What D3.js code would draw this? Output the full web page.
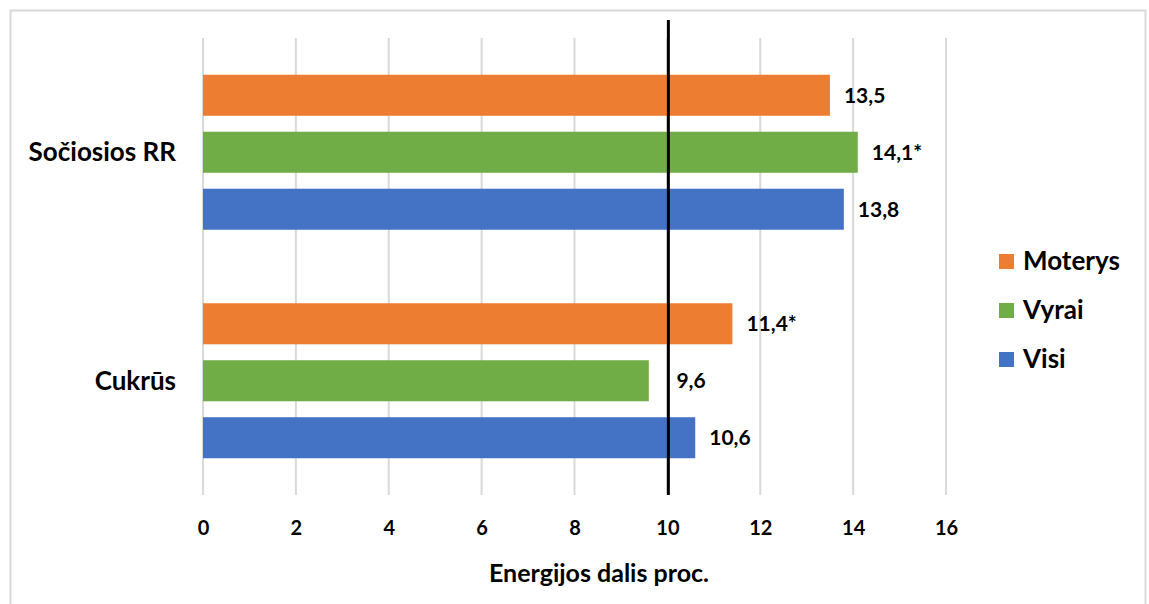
<!DOCTYPE html>
<html>
<head>
<meta charset="utf-8">
<script src="https://cdn.jsdelivr.net/npm/d3@7/dist/d3.min.js"></script>
<style>
  html, body { margin: 0; padding: 0; background: #fff; }
  svg { display: block; }
  text { font-family: Lato, "Open Sans", sans-serif; font-weight: bold; fill: #000; }
</style>
</head>
<body>
<svg id="chart" width="1149" height="604"></svg>
<script>
// Energy share (%) by category and group
const categories = ["Sočiosios RR", "Cukrūs"];
const seriesNames = ["Moterys", "Vyrai", "Visi"];
const seriesColors = ["#ED7D31", "#70AD47", "#4472C4"];
const moterys = [13.5, 11.4];
const vyrai = [14.1, 9.6];
const visi = [13.8, 10.6];
const valueLabels = [["13,5", "11,4*"], ["14,1*", "9,6"], ["13,8", "10,6"]];
const xTicks = [0, 2, 4, 6, 8, 10, 12, 14, 16];
const referenceValue = 10;
const axisTitle = "Energijos dalis proc.";

const seriesValues = [moterys, vyrai, visi];

const svg = d3.select("#chart");

// outer chart frame
svg.append("rect")
  .attr("x", 10.5).attr("y", 10.5)
  .attr("width", 1135).attr("height", 600)
  .attr("fill", "#fff").attr("stroke", "#d9d9d9").attr("stroke-width", 2);

const plot = { left: 203, right: 946, top: 38, bottom: 495 };

const x = d3.scaleLinear().domain([0, 16]).range([plot.left, plot.right]);
const y = d3.scaleBand().domain(categories).range([plot.top, plot.bottom]).paddingInner(0).paddingOuter(0);
const ySeries = d3.scaleBand().domain(seriesNames)
  .range([0, y.bandwidth()]).paddingInner(0.28).paddingOuter(0.645);

// vertical gridlines
svg.append("g").selectAll("line").data(xTicks).join("line")
  .attr("x1", d => x(d)).attr("x2", d => x(d))
  .attr("y1", plot.top).attr("y2", plot.bottom)
  .attr("stroke", "#d9d9d9").attr("stroke-width", 2);

// bars
const rows = [];
categories.forEach((c, ci) => {
  seriesNames.forEach((s, si) => {
    rows.push({ cat: c, series: s, value: seriesValues[si][ci], label: valueLabels[si][ci], color: seriesColors[si] });
  });
});

svg.append("g").selectAll("rect").data(rows).join("rect")
  .attr("x", x(0))
  .attr("y", d => y(d.cat) + ySeries(d.series))
  .attr("width", d => x(d.value) - x(0))
  .attr("height", ySeries.bandwidth())
  .attr("fill", d => d.color);

// value labels; a label that would sit on the reference line is moved past it
const labelX = d => {
  const px = x(d.value) + 14;
  return d.value < referenceValue ? Math.max(px, x(referenceValue) + 9) : px;
};
svg.append("g").selectAll("text").data(rows).join("text")
  .attr("x", labelX)
  .attr("y", d => y(d.cat) + ySeries(d.series) + ySeries.bandwidth() / 2)
  .attr("dy", "0.35em")
  .attr("font-size", 21)
  .text(d => d.label);

// reference line at 10 %
svg.append("line")
  .attr("x1", x(referenceValue) + 1).attr("x2", x(referenceValue) + 1)
  .attr("y1", 20).attr("y2", plot.bottom)
  .attr("stroke", "#000").attr("stroke-width", 3);

// x axis tick labels
const xAxis = d3.axisBottom(x).tickValues(xTicks).tickSize(0).tickPadding(0).tickFormat(d3.format("d"));
const gx = svg.append("g").attr("transform", `translate(0,${plot.bottom})`).call(xAxis);
gx.select(".domain").remove();
gx.selectAll("text")
  .attr("y", 33).attr("dy", "0.35em")
  .attr("font-size", 20)
  .style("font-family", "Lato, 'Open Sans', sans-serif")
  .style("font-weight", "bold")
  .attr("fill", "#000");

// y axis category labels
const yAxis = d3.axisLeft(y).tickSize(0).tickPadding(0);
const gy = svg.append("g").attr("transform", `translate(176,0)`).call(yAxis);
gy.select(".domain").remove();
gy.selectAll("text")
  .attr("x", 0).attr("dy", "0.35em")
  .attr("font-size", 26)
  .style("font-family", "Lato, 'Open Sans', sans-serif")
  .style("font-weight", "bold")
  .attr("fill", "#000");

// axis title
svg.append("text")
  .attr("x", 599).attr("y", 573)
  .attr("dy", "0.35em")
  .attr("text-anchor", "middle")
  .attr("font-size", 25)
  .text(axisTitle);

// legend
const legend = svg.append("g").selectAll("g").data(seriesNames).join("g")
  .attr("transform", (d, i) => `translate(999,${261 + i * 49})`);
legend.append("rect")
  .attr("x", 0).attr("y", -7).attr("width", 15).attr("height", 15)
  .attr("fill", (d, i) => seriesColors[i]);
legend.append("text")
  .attr("x", 24).attr("dy", "0.35em")
  .attr("font-size", 26)
  .text(d => d);
</script>
</body>
</html>
